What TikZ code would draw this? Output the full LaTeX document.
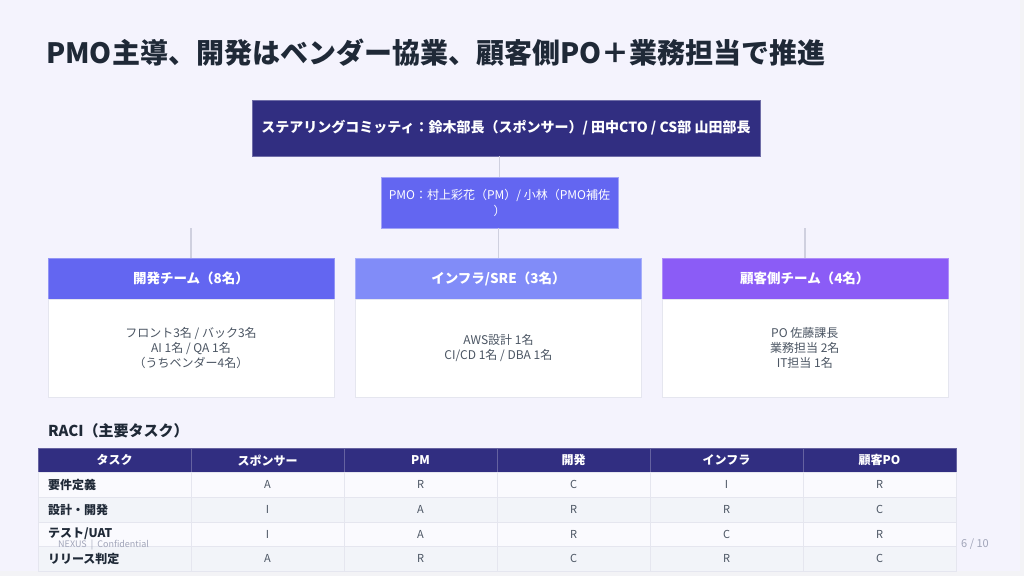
\documentclass[tikz,border=0pt]{standalone}
\usepackage{fontspec}
\setmainfont{Noto Sans CJK JP}
\usetikzlibrary{positioning}
\definecolor{pagegray}{HTML}{F3F3F6}
\definecolor{slidebg}{HTML}{F4F3FD}
\definecolor{ink}{HTML}{1F2937}
\definecolor{bodyink}{HTML}{4B5563}
\definecolor{navy}{HTML}{312E81}
\definecolor{indigo}{HTML}{6366F1}
\definecolor{lindigo}{HTML}{818CF8}
\definecolor{violet}{HTML}{8B5CF6}
\definecolor{wire}{HTML}{CFD0DF}
\definecolor{grid}{HTML}{E5E6EF}
\definecolor{rowa}{HTML}{FAFAFE}
\definecolor{rowb}{HTML}{F2F4F9}
\definecolor{muted}{HTML}{A0A4B8}

\begin{document}
\begin{tikzpicture}[x=1pt,y=-1pt,
  slidetitle/.style={anchor=west,inner sep=0pt,text=ink,font=\fontsize{28}{32}\selectfont\bfseries},
  topbox/.style={fill=navy,draw=navy!70!white,text=white,minimum width=508pt,minimum height=56pt,
    font=\fontsize{14}{17}\selectfont\bfseries},
  pmobox/.style={fill=indigo,draw=indigo!60!white,text=white,minimum width=237pt,minimum height=51pt,
    align=center,font=\fontsize{12}{16}\selectfont},
  teamhead/.style={fill=#1,draw=#1!70!white,text=white,minimum width=286pt,minimum height=41pt,
    font=\fontsize{13.5}{16}\selectfont\bfseries},
  teambody/.style={fill=white,draw=grid,minimum width=286pt,minimum height=98pt,align=center,
    text=bodyink,font=\fontsize{12}{15}\selectfont},
  wireline/.style={draw=wire,line width=1.4pt},
  headcell/.style={fill=navy,draw=navy!75!white,text=white,minimum width=153pt,minimum height=24.6pt,
    font=\fontsize{12}{14}\selectfont\bfseries},
  taskcell/.style={draw=grid,text=ink,inner xsep=10pt,inner ysep=0pt,text width=133pt,align=left,
    minimum height=24.6pt,font=\fontsize{12}{14}\selectfont\bfseries},
  cell/.style={draw=grid,text=bodyink,minimum width=153pt,minimum height=24.6pt,
    font=\fontsize{11}{14}\selectfont},
  smallnote/.style={text=muted,inner sep=0pt,font=\fontsize{#1}{11}\selectfont}]

\useasboundingbox[fill=pagegray] (0,0) rectangle (1024,576);
\fill[slidebg] (0,0) rectangle (1020,571);

\node[slidetitle] (ttl) at (46,53) {PMO主導、開発はベンダー協業、顧客側PO＋業務担当で推進};

% org chart
\node[topbox] (steer) at (506,128) {ステアリングコミッティ：鈴木部長（スポンサー）/ 田中CTO / CS部 山田部長};
\node[pmobox] (pmo) at (499.5,202.5) {PMO：村上彩花（PM）/ 小林（PMO補佐\\）};

\node[teamhead=indigo] (devhead) at (191,278.5) {開発チーム（8名）};
\node[teamhead=lindigo] [right=21pt of devhead] (infrahead) {インフラ/SRE（3名）};
\node[teamhead=violet] [right=20pt of infrahead] (custhead) {顧客側チーム（4名）};
\node[teambody] [below=0pt of devhead] (devbody) {フロント3名 / バック3名\\AI 1名 / QA 1名\\（うちベンダー4名）};
\node[teambody] [below=0pt of infrahead] (infrabody) {AWS設計 1名\\CI/CD 1名 / DBA 1名};
\node[teambody] [below=0pt of custhead] (custbody) {PO 佐藤課長\\業務担当 2名\\IT担当 1名};

\path[wireline]
  (steer.south -| pmo.north) -- (pmo.north)
  (devhead.north |- pmo.south) -- (devhead.north)
  (infrahead.north |- pmo.south) -- (infrahead.north)
  (custhead.north |- pmo.south) -- (custhead.north);

% RACI table
\node[anchor=west,inner sep=0pt,text=ink,font=\fontsize{15}{18}\selectfont\bfseries] (raci) at (48,431) {RACI（主要タスク）};

\foreach \h [count=\i from 0] in {タスク,スポンサー,PM,開発,インフラ,顧客PO}
  \node[headcell] (h\i) at (114.5+153*\i,460.3) {\h};

\foreach \task/\a/\b/\c/\d/\e/\rc [count=\r] in
  {要件定義/A/R/C/I/R/rowa, 設計・開発/I/A/R/R/C/rowb,
   {テスト/UAT}/I/A/R/C/R/rowa, リリース判定/A/R/C/R/C/rowb}
{
  \node[taskcell,fill=\rc] (t\r) at (114.5,460.3+24.6*\r) {\task};
  \foreach \v [count=\j] in {\a,\b,\c,\d,\e}
    \node[cell,fill=\rc] (c\r\j) at (114.5+153*\j,460.3+24.6*\r) {\v};
}

\node[smallnote=9,anchor=west] (foot) at (58,545) {NEXUS \ | \ Confidential};
\node[smallnote=11,anchor=west] (pg) at (961,544) {6 / 10};
\end{tikzpicture}
\end{document}
